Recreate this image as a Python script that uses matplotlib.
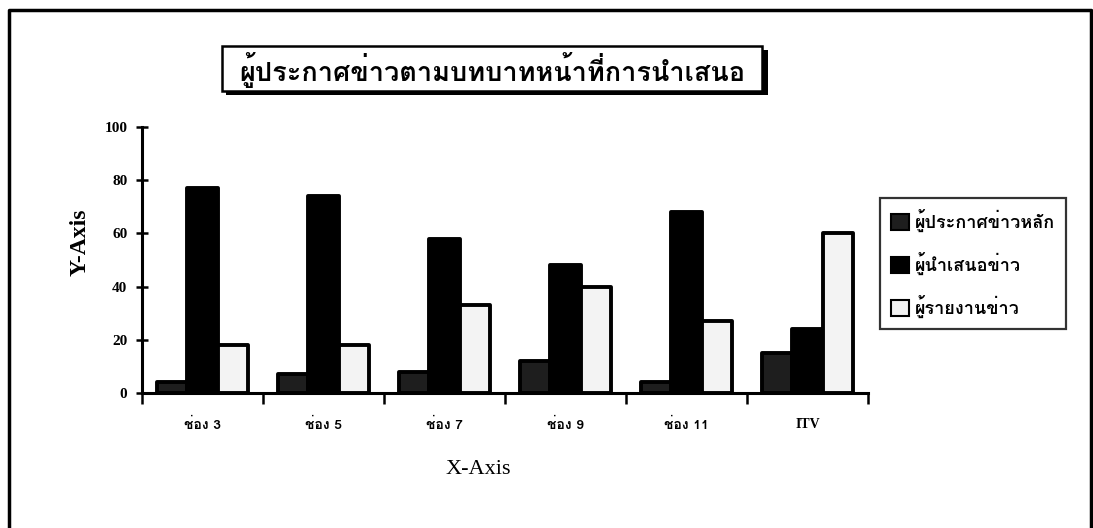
import matplotlib
matplotlib.use("Agg")
import matplotlib.pyplot as plt
from matplotlib import font_manager
from matplotlib.ft2font import FT2Font, LoadFlags
from matplotlib.patches import Rectangle, Patch
from matplotlib.lines import Line2D
import numpy as np

# data
channels = ['ช่อง 3', 'ช่อง 5', 'ช่อง 7', 'ช่อง 9', 'ช่อง 11', 'ITV']
series_names = ['ผู้ประกาศข่าวหลัก', 'ผู้นำเสนอข่าว', 'ผู้รายงานข่าว']
main_anchor = [4, 7, 8, 12, 4, 15]
presenter = [77, 74, 58, 48, 68, 24]
reporter = [18, 18, 33, 40, 27, 60]
y_ticks = [0, 20, 40, 60, 80, 100]
title = 'ผู้ประกาศข่าวตามบทบาทหน้าที่การนำเสนอ'

preferred = ['Loma', 'Garuda', 'Waree', 'Umpush', 'Noto Sans Thai',
             'Sawasdee', 'Norasi', 'Kinnari', 'Laksaman', 'Purisa']


def find_thai_font():
    # proportional fonts with Thai glyphs whose tone marks take no advance
    found = []
    for path in font_manager.findSystemFonts():
        try:
            f = FT2Font(path)
            cmap = f.get_charmap()
        except Exception:
            continue
        if 0x0E01 not in cmap or 0x0E48 not in cmap:
            continue
        try:
            g = f.load_char(0x0E48, flags=LoadFlags.NO_HINTING)
            zero_mark = g.horiAdvance == 0
        except Exception:
            zero_mark = False
        name = font_manager.FontProperties(fname=path).get_name()
        found.append((name, zero_mark))
    good = [n for n, z in found if z]
    for p in preferred:
        if p in good:
            return p
    if good:
        return good[0]
    if found:
        return found[0][0]
    return None


thai = find_thai_font()
thai_family = [thai, 'DejaVu Sans'] if thai else ['DejaVu Sans']
serif = 'Liberation Serif'

W, H = 1093, 528
fig = plt.figure(figsize=(W / 100, H / 100), dpi=100)
fig.patch.set_facecolor('white')


def fx(px):
    return px / W


def fy(py):
    return 1 - py / H


# outer frame (bottom edge is cut off in the scan)
fig.add_artist(Line2D([fx(9), fx(9), fx(1091), fx(1091)],
                      [fy(530), fy(10), fy(10), fy(530)],
                      transform=fig.transFigure, color='black', lw=2.5))

# title box with drop shadow
fig.add_artist(Rectangle((fx(226), fy(95)), fx(768) - fx(226), fy(50) - fy(95),
                         transform=fig.transFigure, facecolor='black',
                         edgecolor='black', lw=0))
fig.add_artist(Rectangle((fx(222), fy(91)), fx(762) - fx(222), fy(46) - fy(91),
                         transform=fig.transFigure, facecolor='white',
                         edgecolor='black', lw=1.8))
fig.text(fx(492), fy(70), title, ha='center', va='center',
         fontsize=19.5, fontweight='bold', family=thai_family)

ax = fig.add_axes([fx(142), fy(393), fx(868) - fx(142), fy(127) - fy(393)])

x = np.arange(len(channels))
w = 0.25
styles = [
    dict(facecolor='#1e1e1e'),
    dict(facecolor='black'),
    dict(facecolor='#f3f3f3'),
]
for i, vals in enumerate([main_anchor, presenter, reporter]):
    ax.bar(x + (i - 1) * w, vals, width=w, edgecolor='black', linewidth=2.8,
           joinstyle='round', zorder=3, **styles[i])

ax.set_xlim(-0.5, len(channels) - 0.5)
ax.set_ylim(0, 100)
for s in ['top', 'right']:
    ax.spines[s].set_visible(False)
ax.spines['left'].set_linewidth(2.2)
ax.spines['bottom'].set_linewidth(2.2)

ax.set_yticks(y_ticks)
ax.set_yticklabels([str(v) for v in y_ticks], family=serif,
                   fontweight='bold', fontsize=11)
ax.tick_params(axis='y', direction='inout', length=9, width=1.8, pad=6)

# category boundary ticks, labels at the centres
ax.set_xticks(np.arange(len(channels) + 1) - 0.5, minor=True)
ax.set_xticks(x)
ax.set_xticklabels(channels, family=thai_family + [serif],
                   fontweight='bold', fontsize=10)
ax.get_xticklabels()[-1].set_family(serif)
ax.tick_params(axis='x', which='major', length=0, pad=18)
ax.tick_params(axis='x', which='minor', direction='out', length=8, width=1.8)

fig.text(fx(80), fy(242), 'Y-Axis', rotation=90, ha='center', va='center',
         family=serif, fontweight='bold', fontsize=17)
fig.text(fx(478), fy(470), 'X-Axis', ha='center', va='center',
         family=serif, fontsize=16)

handles = [Patch(edgecolor='black', linewidth=1.5, **styles[i])
           for i in range(3)]
leg = fig.legend(handles, series_names, loc='upper left',
                 bbox_to_anchor=(fx(880), fy(198)), borderaxespad=0,
                 prop=font_manager.FontProperties(family=thai_family,
                                                  weight='bold', size=13),
                 handlelength=1.0, handleheight=1.0, handletextpad=0.35,
                 labelspacing=1.1, borderpad=0.6, frameon=True,
                 fancybox=False, edgecolor='black')
leg.get_frame().set_linewidth(1.6)

fig.savefig('out.png', dpi=100, facecolor='white')
